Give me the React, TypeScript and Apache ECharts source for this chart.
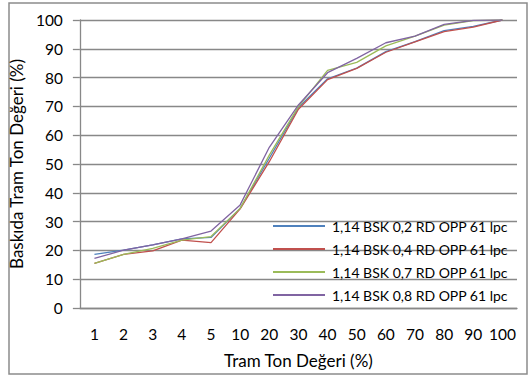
import React, { useEffect, useRef } from "react";
import * as echarts from "echarts";

const categories = ["1", "2", "3", "4", "5", "10", "20", "30", "40", "50", "60", "70", "80", "90", "100"];

const seriesNames = [
  "1,14 BSK 0,2 RD OPP 61 lpc",
  "1,14 BSK 0,4 RD OPP 61 lpc",
  "1,14 BSK 0,7 RD OPP 61 lpc",
  "1,14 BSK 0,8 RD OPP 61 lpc",
];

const bsk02 = [18.6, 20.1, 21.9, 24.0, 24.5, 34.6, 52.0, 69.6, 79.6, 83.3, 89.0, 92.5, 96.3, 97.8, 100];
const bsk04 = [15.5, 18.6, 19.8, 23.6, 22.7, 34.4, 50.8, 69.0, 79.3, 83.2, 88.8, 92.4, 96.0, 97.5, 100];
const bsk07 = [15.5, 18.6, 20.7, 23.6, 24.8, 34.6, 53.1, 69.9, 82.5, 85.3, 91.0, 94.4, 98.2, 99.8, 100];
const bsk08 = [17.2, 20.1, 21.9, 24.0, 26.7, 35.8, 55.8, 70.5, 81.7, 86.7, 92.1, 94.4, 98.5, 99.9, 100];

const seriesData = [bsk02, bsk04, bsk07, bsk08];
const colors = ["#4F81BD", "#C0504D", "#9BBB59", "#8064A2"];

const FONT = "Lato, 'Open Sans', sans-serif";

export default function App() {
  const ref = useRef<HTMLDivElement>(null);

  useEffect(() => {
    if (!ref.current) return;
    const chart = echarts.init(ref.current, undefined, { renderer: "svg" });
    chart.setOption({
      animation: false,
      color: colors,
      textStyle: { fontFamily: FONT },
      graphic: [
        {
          type: "rect",
          shape: { x: 9, y: 3, width: 518, height: 371 },
          style: { fill: "none", stroke: "#8c8c8c", lineWidth: 1.5 },
          silent: true,
          z: -1,
        },
      ],
      grid: { left: 79, right: 11, top: 20, bottom: 68 },
      legend: {
        orient: "vertical",
        left: 273,
        top: 218,
        padding: 0,
        itemWidth: 52,
        itemHeight: 2,
        itemGap: 7,
        icon: "rect",
        textStyle: { fontFamily: FONT, fontSize: 14, color: "#000", lineHeight: 16, padding: [0, 0, 0, 2] },
        data: seriesNames,
      },
      xAxis: {
        type: "category",
        data: categories,
        boundaryGap: true,
        name: "Tram Ton Değeri (%)",
        nameLocation: "middle",
        nameGap: 44,
        nameTextStyle: { fontFamily: FONT, fontSize: 17, color: "#000" },
        axisLine: { lineStyle: { color: "#888", width: 1.3 } },
        axisTick: { show: false },
        axisLabel: { fontFamily: FONT, fontSize: 15.5, color: "#000", margin: 18, interval: 0 },
      },
      yAxis: {
        type: "value",
        min: 0,
        max: 100,
        interval: 10,
        name: "Baskıda Tram Ton Değeri (%)",
        nameLocation: "middle",
        nameGap: 42,
        nameTextStyle: { fontFamily: FONT, fontSize: 17, color: "#000" },
        axisLine: { show: true, lineStyle: { color: "#888", width: 1.3 } },
        axisTick: { show: true, length: 7, lineStyle: { color: "#888", width: 1.3 } },
        axisLabel: { fontFamily: FONT, fontSize: 15.5, color: "#000", margin: 17 },
        splitLine: { lineStyle: { color: "#888", width: 1.3 } },
      },
      series: seriesData.map((d, i) => ({
        name: seriesNames[i],
        type: "line",
        data: d,
        symbol: "none",
        lineStyle: { width: 1.3, color: colors[i] },
        itemStyle: { color: colors[i] },
      })),
    });
    return () => chart.dispose();
  }, []);

  return (
    <div
      ref={ref}
      style={{ position: "fixed", left: 0, top: 0, width: 528, height: 376, background: "#fff" }}
    />
  );
}
